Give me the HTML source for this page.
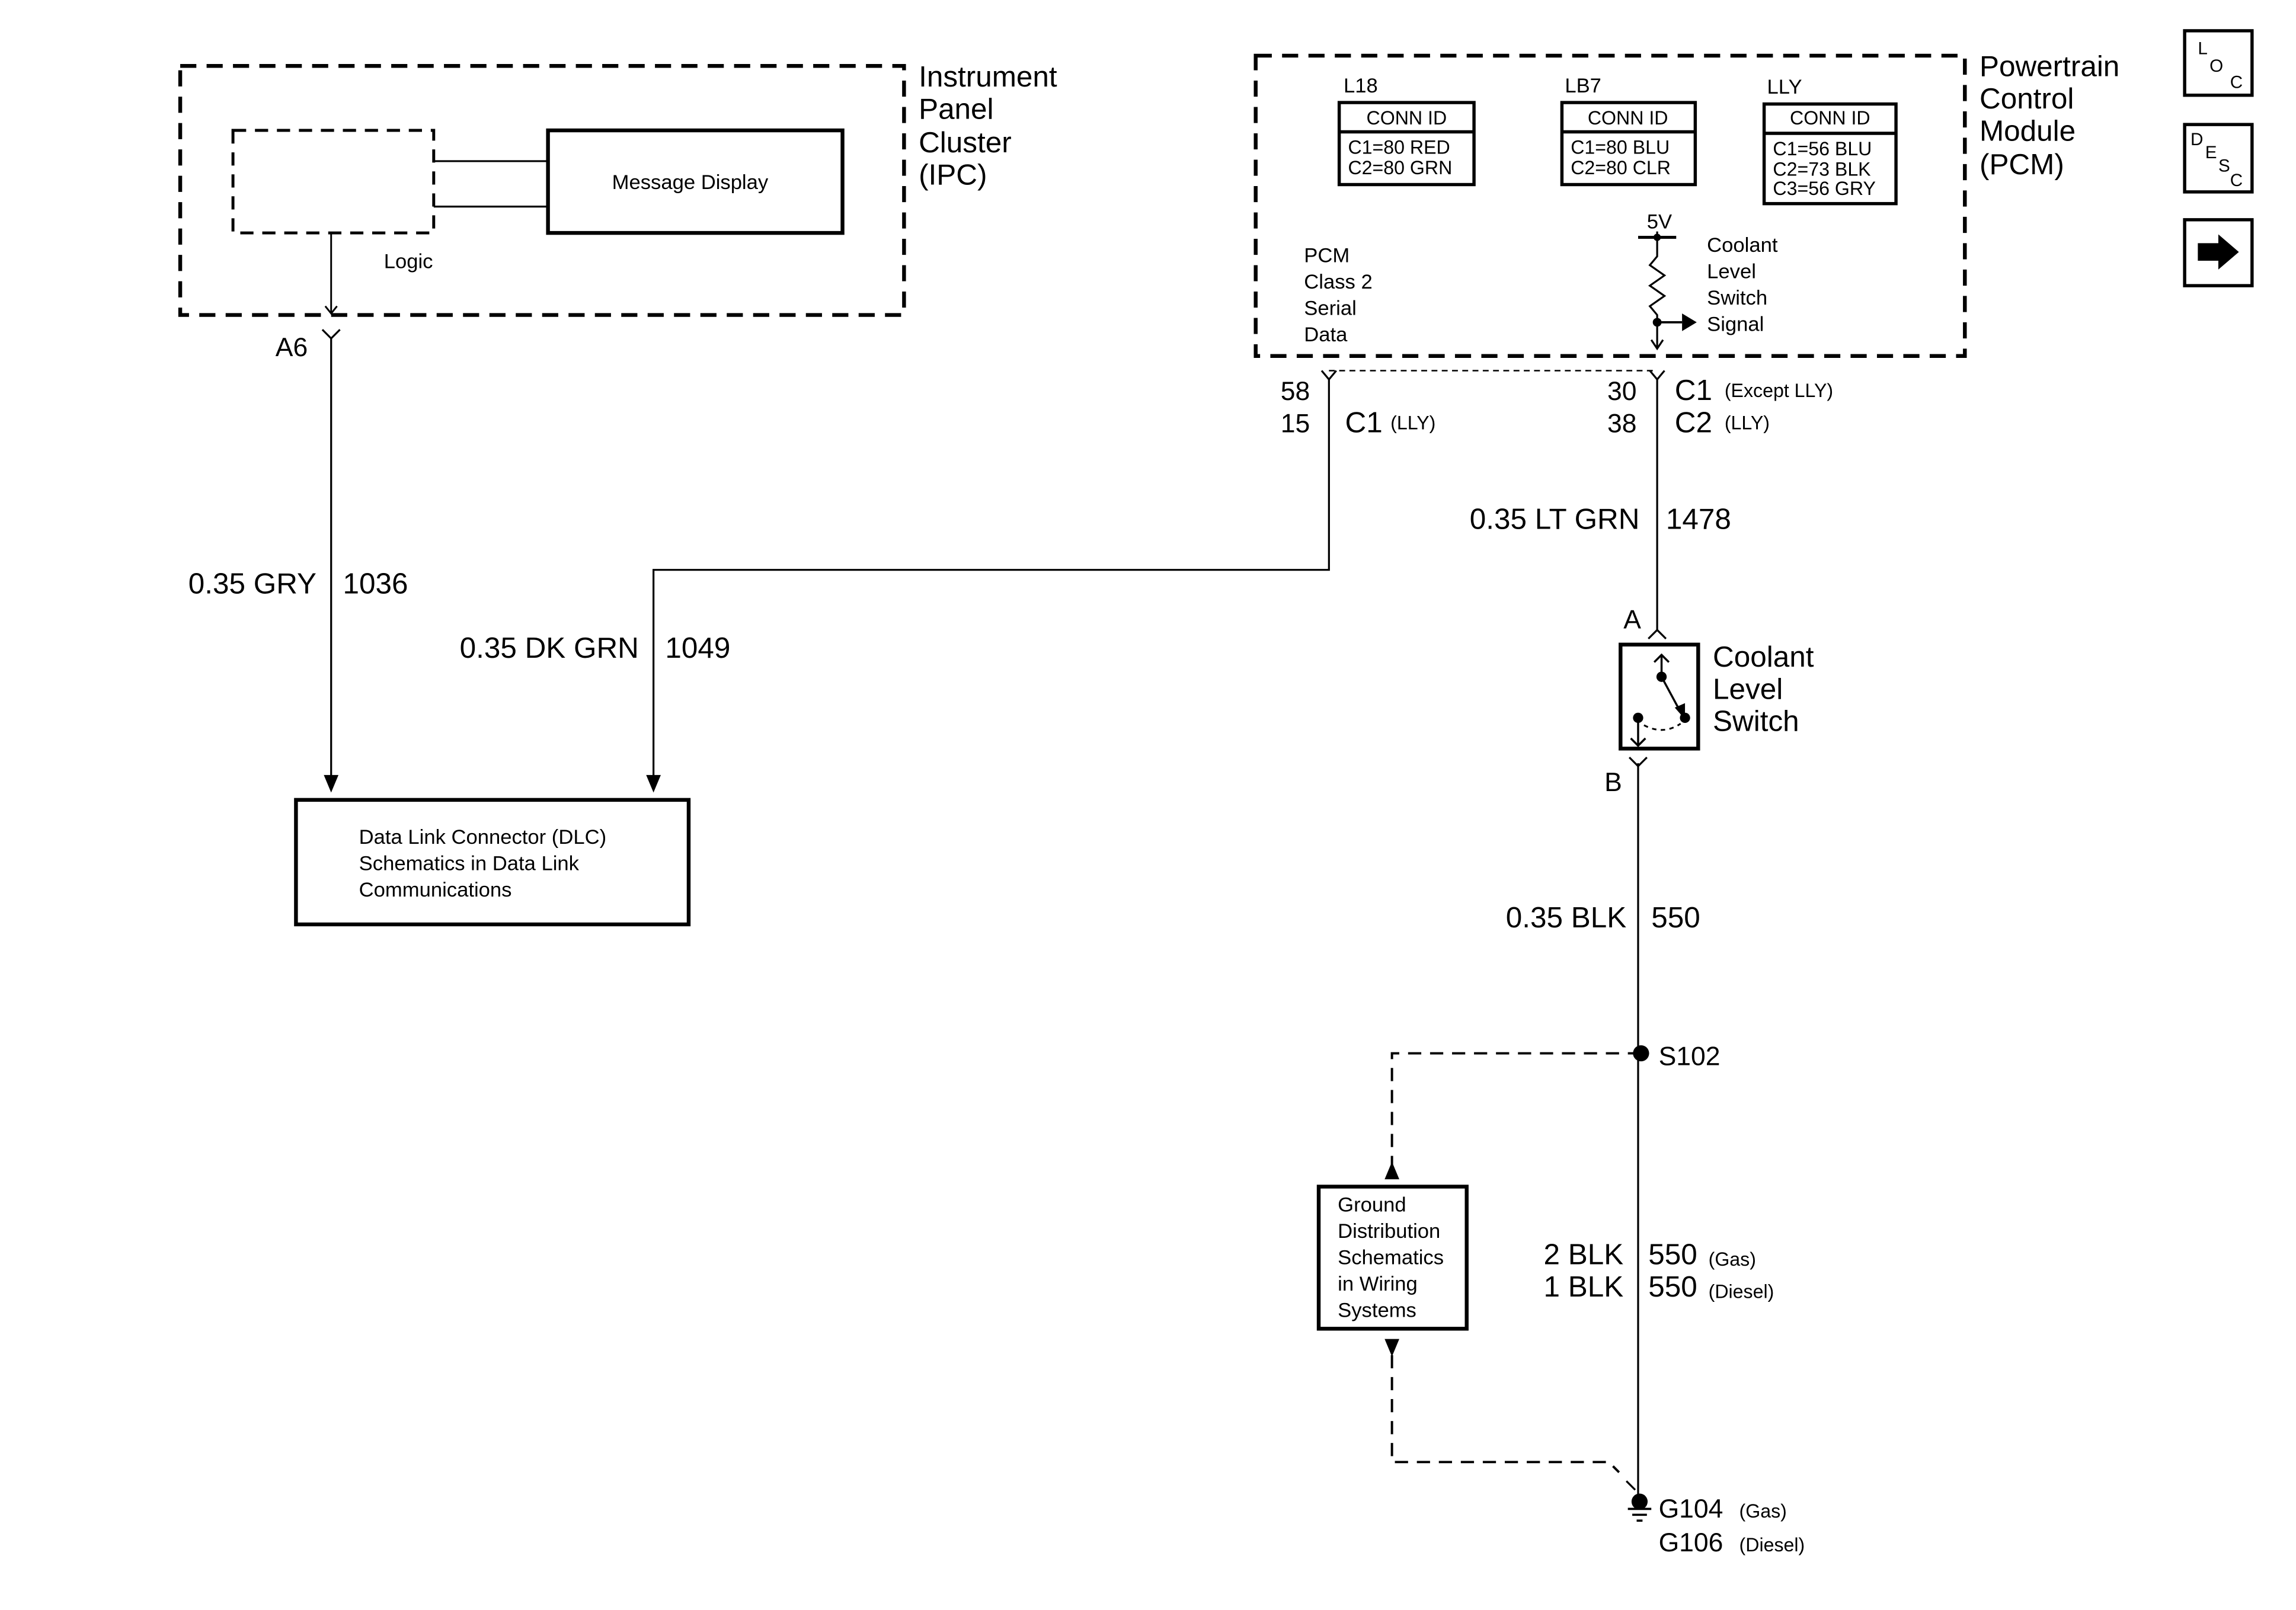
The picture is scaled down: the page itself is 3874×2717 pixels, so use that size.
<!DOCTYPE html>
<html><head><meta charset="utf-8"><style>
html,body{margin:0;padding:0;background:#fff}
svg{display:block}
text{font-family:"Liberation Sans",Arial,sans-serif;fill:#000}
</style></head><body>
<svg width="3874" height="2717" viewBox="0 0 1567 1099" preserveAspectRatio="none" xmlns="http://www.w3.org/2000/svg">
<g fill="none" stroke="#000">
<!-- IPC -->
<rect x="123" y="45" width="494" height="170" stroke-width="2.6" stroke-dasharray="11,7"/>
<rect x="159" y="89" width="137" height="70" stroke-width="2" stroke-dasharray="9,6"/>
<rect x="374" y="89" width="201" height="70" stroke-width="2.6"/>
<line x1="296" y1="110" x2="374" y2="110" stroke-width="1.3"/>
<line x1="296" y1="141" x2="374" y2="141" stroke-width="1.3"/>
<line x1="226" y1="159" x2="226" y2="214" stroke-width="1.2"/>
<polyline points="222,209 226,214 230,209" stroke-width="1.2"/>
<polyline points="220,225 226,231 232,225" stroke-width="1.3"/>
<line x1="226" y1="231" x2="226" y2="533" stroke-width="1.3"/>
<rect x="202" y="546" width="268" height="85" stroke-width="2.6"/>
<!-- DK GRN -->
<polyline points="907,258 907,389 446,389 446,533" stroke-width="1.3"/>
<!-- PCM -->
<rect x="857" y="38" width="484" height="205" stroke-width="2.6" stroke-dasharray="11,7"/>
<rect x="914" y="70" width="92" height="56" stroke-width="2.2"/>
<line x1="914" y1="90" x2="1006" y2="90" stroke-width="2.2"/>
<rect x="1066" y="70" width="91" height="56" stroke-width="2.2"/>
<line x1="1066" y1="90" x2="1157" y2="90" stroke-width="2.2"/>
<rect x="1204" y="71" width="90" height="68" stroke-width="2.2"/>
<line x1="1204" y1="91" x2="1294" y2="91" stroke-width="2.2"/>
<line x1="1118" y1="162" x2="1144" y2="162" stroke-width="2"/>
<polyline points="1131,158 1131,175 1126,181 1136,188 1126,195 1136,202 1126,209 1131,215 1131,238" stroke-width="1.3"/>
<polyline points="1127,232 1131,238 1135,232" stroke-width="1.3"/>
<line x1="1131" y1="220" x2="1148" y2="220" stroke-width="1.5"/>
<line x1="907" y1="253" x2="1131" y2="253" stroke-width="1" stroke-dasharray="4,3"/>
<polyline points="902,253 907,259 912,253" stroke-width="1.3"/>
<polyline points="1126,253 1131,259 1136,253" stroke-width="1.3"/>
<line x1="1131" y1="259" x2="1131" y2="430" stroke-width="1.3"/>
<!-- switch -->
<polyline points="1125,436 1131,430 1137,436" stroke-width="1.3"/>
<rect x="1106" y="440" width="53" height="71" stroke-width="2.6"/>
<line x1="1134" y1="447" x2="1134" y2="462" stroke-width="1.4"/>
<polyline points="1129,452 1134,447 1139,452" stroke-width="1.4"/>
<line x1="1134" y1="462" x2="1148" y2="488" stroke-width="1.4"/>
<line x1="1118" y1="490" x2="1118" y2="509" stroke-width="1.4"/>
<polyline points="1113,504 1118,509 1123,504" stroke-width="1.4"/>
<path d="M1122,495 Q1135,502 1147,494" stroke-width="1.2" stroke-dasharray="3,3"/>
<polyline points="1112,523 1118,517 1124,523" stroke-width="1.3" transform="rotate(180 1118 520)"/>
<line x1="1118" y1="521" x2="1118" y2="1020" stroke-width="1.3"/>
<!-- ground dist -->
<polyline points="1120,719 950,719 950,800" stroke-width="1.6" stroke-dasharray="9,6"/>
<rect x="900" y="810" width="101" height="97" stroke-width="2.6"/>
<polyline points="950,925 950,998 1098,998 1105,1005" stroke-width="1.6" stroke-dasharray="9,6"/>
<line x1="1110" y1="1011" x2="1116" y2="1017" stroke-width="1.3"/>
<line x1="1111" y1="1030" x2="1127" y2="1030" stroke-width="1.5"/>
<line x1="1114" y1="1034" x2="1124" y2="1034" stroke-width="1.5"/>
<line x1="1117" y1="1038" x2="1121" y2="1038" stroke-width="1.5"/>
<!-- icons -->
<rect x="1491" y="21" width="46" height="44" stroke-width="2.2"/>
<rect x="1491" y="85" width="46" height="46" stroke-width="2.2"/>
<rect x="1491" y="150" width="46" height="45" stroke-width="2.2"/>
</g>
<g fill="#000">
<polygon points="221,529 231,529 226,541"/>
<polygon points="441,529 451,529 446,541"/>
<polygon points="1148,214 1158,220 1148,226"/>
<circle cx="1131" cy="220" r="3"/>
<circle cx="1131" cy="162" r="2.5"/>
<circle cx="1134" cy="462" r="3.5"/>
<circle cx="1150" cy="490" r="3.5"/>
<circle cx="1118" cy="490" r="3.5"/>
<polygon points="1143,483 1150,491 1150,480"/>
<circle cx="1120" cy="719" r="5.5"/>
<circle cx="1119" cy="1025" r="5.5"/>
<polygon points="945,805 955,805 950,793"/>
<polygon points="945,914 955,914 950,926"/>
<polygon points="1500,166 1514,166 1514,160 1528,172 1514,184 1514,178 1500,178"/>
</g>
<g font-size="20">
<text x="627" y="59">Instrument</text><text x="627" y="81">Panel</text><text x="627" y="104">Cluster</text><text x="627" y="126">(IPC)</text>
<text x="1351" y="52">Powertrain</text><text x="1351" y="74">Control</text><text x="1351" y="96">Module</text><text x="1351" y="119">(PCM)</text>
<text x="216" y="405" text-anchor="end">0.35 GRY</text><text x="234" y="405">1036</text>
<text x="436" y="449" text-anchor="end">0.35 DK GRN</text><text x="454" y="449">1049</text>
<text x="1119" y="361" text-anchor="end">0.35 LT GRN</text><text x="1137" y="361">1478</text>
<text x="1169" y="455">Coolant</text><text x="1169" y="477">Level</text><text x="1169" y="499">Switch</text>
<text x="1110" y="633" text-anchor="end">0.35 BLK</text><text x="1127" y="633">550</text>
<text x="1108" y="863" text-anchor="end">2 BLK</text><text x="1125" y="863">550</text>
<text x="1108" y="885" text-anchor="end">1 BLK</text><text x="1125" y="885">550</text>
<text x="918" y="295">C1</text><text x="1143" y="273">C1</text><text x="1143" y="295">C2</text>
</g>
<g font-size="18">
<text x="188" y="243">A6</text>
<text x="874" y="273">58</text><text x="874" y="295">15</text>
<text x="1097" y="273">30</text><text x="1097" y="295">38</text>
<text x="1108" y="429">A</text><text x="1095" y="540">B</text>
<text x="1132" y="727">S102</text>
<text x="1132" y="1036">G104</text><text x="1132" y="1059">G106</text>
</g>
<g font-size="13">
<text x="949" y="293">(LLY)</text><text x="1177" y="271">(Except LLY)</text><text x="1177" y="293">(LLY)</text>
<text x="1166" y="864">(Gas)</text><text x="1166" y="886">(Diesel)</text>
<text x="1187" y="1036">(Gas)</text><text x="1187" y="1059">(Diesel)</text>
</g>
<g font-size="14">
<text x="471" y="129" text-anchor="middle">Message Display</text>
<text x="262" y="183">Logic</text>
<text x="245" y="576">Data Link Connector (DLC)</text><text x="245" y="594">Schematics in Data Link</text><text x="245" y="612">Communications</text>
<text x="890" y="179">PCM</text><text x="890" y="197">Class 2</text><text x="890" y="215">Serial</text><text x="890" y="233">Data</text>
<text x="1165" y="172">Coolant</text><text x="1165" y="190">Level</text><text x="1165" y="208">Switch</text><text x="1165" y="226">Signal</text>
<text x="1124" y="156">5V</text>
<text x="917" y="63">L18</text><text x="1068" y="63">LB7</text><text x="1206" y="64">LLY</text>
<text x="913" y="827">Ground</text><text x="913" y="845">Distribution</text><text x="913" y="863">Schematics</text><text x="913" y="881">in Wiring</text><text x="913" y="899">Systems</text>
</g>
<g font-size="13">
<text x="960" y="85" text-anchor="middle">CONN ID</text><text x="920" y="105">C1=80 RED</text><text x="920" y="119">C2=80 GRN</text>
<text x="1111" y="85" text-anchor="middle">CONN ID</text><text x="1072" y="105">C1=80 BLU</text><text x="1072" y="119">C2=80 CLR</text>
<text x="1249" y="85" text-anchor="middle">CONN ID</text><text x="1210" y="106">C1=56 BLU</text><text x="1210" y="120">C2=73 BLK</text><text x="1210" y="133">C3=56 GRY</text>
</g>
<g font-size="12">
<text x="1500" y="37">L</text><text x="1508" y="49">O</text><text x="1522" y="60">C</text>
<text x="1495" y="99">D</text><text x="1505" y="108">E</text><text x="1514" y="117">S</text><text x="1522" y="127">C</text>
</g>
</svg>
</body></html>
